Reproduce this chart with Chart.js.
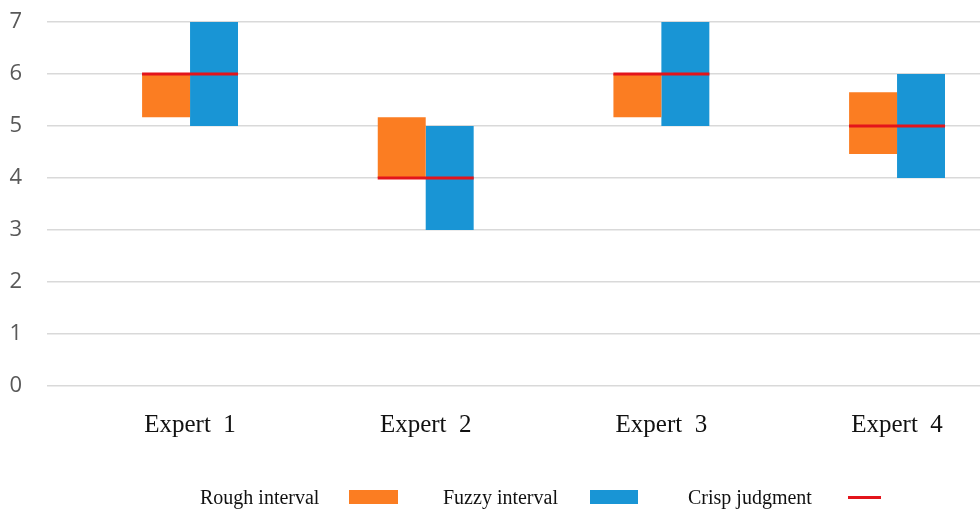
<!DOCTYPE html>
<html>
<head>
<meta charset="utf-8">
<script src="https://cdn.jsdelivr.net/npm/chart.js@4.4.1/dist/chart.umd.min.js"></script>
<style>
  html, body { margin: 0; padding: 0; background: #fff; }
  #wrap { position: relative; width: 980px; height: 509px; overflow: hidden; }
  #c { position: absolute; left: 0; top: 0; }
  .leg { position: absolute; font-family: "Liberation Serif", "Times New Roman", serif; font-size: 20px; color: #111; line-height: 22px; white-space: nowrap; }
  .sw { position: absolute; }
</style>
</head>
<body>
<div id="wrap">
  <canvas id="c" width="980" height="509"></canvas>
  <div class="leg" style="left:200px; top:486px;">Rough interval</div>
  <div class="sw" style="left:349px; top:490px; width:49px; height:14px; background:#FB7D22;"></div>
  <div class="leg" style="left:443px; top:486px;">Fuzzy interval</div>
  <div class="sw" style="left:590px; top:490px; width:48px; height:14px; background:#1995D5;"></div>
  <div class="leg" style="left:688px; top:486px;">Crisp judgment</div>
  <div class="sw" style="left:848px; top:496px; width:33px; height:3px; background:#E3141B;"></div>
</div>
<script>
const categories = ["Expert  1", "Expert  2", "Expert  3", "Expert  4"];
const roughLow  = [5.17, 4.00, 5.17, 4.46];
const roughHigh = [6.00, 5.17, 6.00, 5.65];
const fuzzyLow  = [5, 3, 5, 4];
const fuzzyHigh = [7, 5, 7, 6];
const crisp     = [6, 4, 6, 5];
const yTicks    = [0, 1, 2, 3, 4, 5, 6, 7];

const xs = categories.map((_, i) => i + 1);

const chart = new Chart(document.getElementById('c'), {
  type: 'bar',
  data: {
    datasets: [
      {
        label: 'Rough interval',
        data: xs.map((x, i) => ({ x: x, y: [roughLow[i], roughHigh[i]] })),
        backgroundColor: '#FB7D22',
        borderWidth: 0,
        categoryPercentage: 0.407,
        barPercentage: 1.0,
        order: 1
      },
      {
        label: 'Fuzzy interval',
        data: xs.map((x, i) => ({ x: x, y: [fuzzyLow[i], fuzzyHigh[i]] })),
        backgroundColor: '#1995D5',
        borderWidth: 0,
        categoryPercentage: 0.407,
        barPercentage: 1.0,
        order: 2
      },
      {
        type: 'scatter',
        label: 'Crisp judgment',
        data: xs.map((x, i) => ({ x: x, y: crisp[i] })),
        pointStyle: 'line',
        pointRadius: 48,
        pointHoverRadius: 48,
        borderColor: '#E3141B',
        backgroundColor: '#E3141B',
        pointBorderWidth: 3,
        borderWidth: 3,
        showLine: false,
        clip: false,
        order: 0
      }
    ]
  },
  options: {
    responsive: false,
    animation: false,
    events: [],
    layout: { autoPadding: false, padding: { left: 0, right: 0, top: 22, bottom: 45 } },
    plugins: { legend: { display: false }, tooltip: { enabled: false } },
    scales: {
      x: {
        type: 'linear',
        offset: false,
        min: 0.393,
        max: 4.352,
        grid: { display: false, drawTicks: false },
        border: { display: false },
        afterBuildTicks: (axis) => { axis.ticks = xs.map(v => ({ value: v })); },
        afterFit: (axis) => { axis.paddingLeft = 0; axis.paddingRight = 0; },
        ticks: {
          callback: (v) => categories[v - 1] || '',
          font: { family: '"Liberation Serif", "Times New Roman", serif', size: 25 },
          color: '#111',
          padding: 24,
          maxRotation: 0,
          autoSkip: false
        }
      },
      y: {
        min: 0,
        max: 7,
        afterBuildTicks: (axis) => { axis.ticks = yTicks.map(v => ({ value: v })); },
        afterFit: (axis) => { axis.width = 47; axis.paddingTop = 0; axis.paddingBottom = 0; },
        grid: { color: '#D9D9D9', lineWidth: 1.5, drawTicks: false },
        border: { display: false },
        ticks: {
          font: { family: '"Open Sans", sans-serif', size: 22 },
          color: '#595959',
          padding: 25
        }
      }
    }
  }
});
</script>
</body>
</html>
